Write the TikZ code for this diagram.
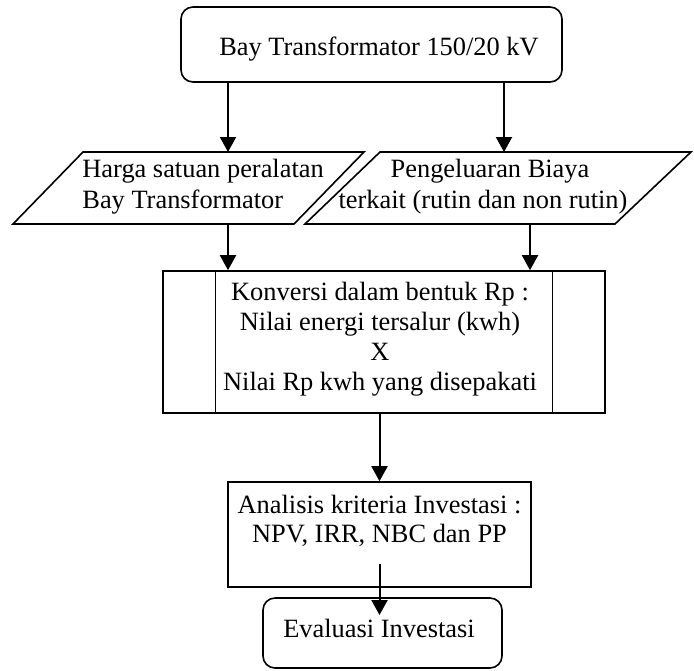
\documentclass[tikz,border=0pt]{standalone}
\usepackage{fontspec}
\setmainfont{Liberation Serif}
\usetikzlibrary{arrows.meta}
\begin{document}
\begin{tikzpicture}[x=0.5pt,y=-0.5pt,
  box/.style={draw, line width=0.8pt, inner sep=0pt},
  inner/.style={draw, line width=0.6pt},
  conn/.style={draw, line width=1pt, -{Triangle[length=7.5pt,width=8pt]}},
  txt/.style={font=\fontsize{13.2}{15}\selectfont, inner sep=0pt}]
\useasboundingbox (0,0) rectangle (694,670);

% top terminal
\node[box, rounded corners=6pt, minimum width=190.5pt, minimum height=37.5pt] (top) at (371.5,44.5) {};
\node[txt, anchor=base] (toplbl) at (379,55) {Bay Transformator 150/20 kV};

% left parallelogram
\draw[box] (13,224) -- (294,224) -- (364,152) -- (83,152) -- cycle;
\node[txt, anchor=base west] (pl1) at (82,177) {Harga satuan peralatan};
\node[txt, anchor=base west] (pl2) at (82,208) {Bay Transformator};

% right parallelogram
\draw[box] (305,224) -- (615,224) -- (691,152) -- (380,152) -- cycle;
\node[txt, anchor=base] (pr1) at (490,177) {Pengeluaran Biaya};
\node[txt, anchor=base] (pr2) at (483,208) {terkait (rutin dan non rutin)};

% predefined process
\node[box, minimum width=221pt, minimum height=71pt] (pre) at (384,342) {};
\draw[inner] ([xshift=26.5pt]pre.north west) -- ([xshift=26.5pt]pre.south west);
\draw[inner] ([xshift=-26.5pt]pre.north east) -- ([xshift=-26.5pt]pre.south east);
\node[txt, align=center] (prelbl) at (380,339) {Konversi dalam bentuk Rp :\\Nilai energi tersalur (kwh)\\X\\Nilai Rp kwh yang disepakati};

% analysis
\node[box, minimum width=151.5pt, minimum height=52.5pt] (ana) at (379.5,534.5) {};
\node[txt, align=center, font=\fontsize{13.2}{14.5}\selectfont] (analbl) at (379.5,520.5) {Analisis kriteria Investasi :\\NPV, IRR, NBC dan PP};

% evaluation terminal
\node[box, rounded corners=6pt, minimum width=119.5pt, minimum height=35pt] (ev) at (382.5,633) {};
\node[txt, anchor=base] (evlbl) at (379,637) {Evaluasi Investasi};

% connector coordinates
\coordinate (a1) at (228,152);
\coordinate (a2) at (504,152);
\coordinate (b1) at (228,224);
\coordinate (b2) at (530,224);
\coordinate (c1) at (379.5,564);
\coordinate (c2) at (379.5,615);

\draw[conn] (top.south -| a1) -- (a1);
\draw[conn] (top.south -| a2) -- (a2);
\draw[conn] (b1) -- (pre.north -| b1);
\draw[conn] (b2) -- (pre.north -| b2);
\draw[conn] (pre.south -| ana.north) -- (ana.north);
\draw[conn] (c1) -- (c2);
\end{tikzpicture}
\end{document}
